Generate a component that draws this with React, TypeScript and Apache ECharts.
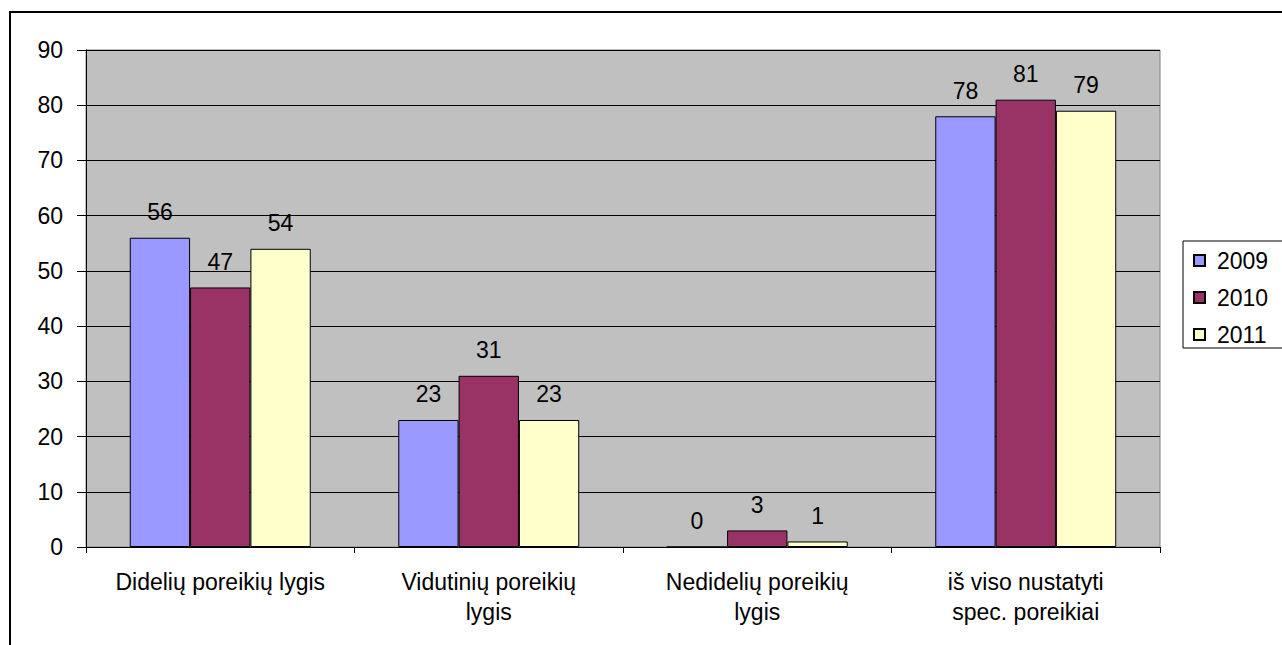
import React, { useEffect, useRef } from "react";
import * as echarts from "echarts";

const categories = [
  "Didelių poreikių lygis",
  "Vidutinių poreikių\nlygis",
  "Nedidelių poreikių\nlygis",
  "iš viso nustatyti\nspec. poreikiai",
];
const seriesNames = ["2009", "2010", "2011"];
const values2009 = [56, 23, 0, 78];
const values2010 = [47, 31, 3, 81];
const values2011 = [54, 23, 1, 79];
const colors = ["#9999FF", "#993366", "#FFFFCC"];
const yTicks = { min: 0, max: 90, interval: 10 };

const FONT = "'Liberation Sans', Arial, sans-serif";
const FS = 23;

export default function App() {
  const ref = useRef<HTMLDivElement>(null);
  useEffect(() => {
    if (!ref.current) return;
    const chart = echarts.init(ref.current, undefined, { renderer: "svg" });
    const data = [values2009, values2010, values2011];
    chart.setOption({
      animation: false,
      textStyle: { fontFamily: FONT, color: "#000" },
      graphic: [
        {
          type: "rect",
          shape: { x: 10, y: 12, width: 1400, height: 800 },
          style: { fill: "none", stroke: "#000", lineWidth: 2 },
          silent: true,
        },
      ],
      grid: {
        left: 86,
        top: 50,
        right: 122,
        bottom: 98,
        show: true,
        backgroundColor: "#C0C0C0",
        borderColor: "#808080",
        borderWidth: 1,
      },
      legend: {
        orient: "vertical",
        left: 1183,
        top: 241,
        padding: [8, 80, 2, 10],
        borderColor: "#000",
        borderWidth: 1,
        itemWidth: 11,
        itemHeight: 11,
        itemGap: 14,
        textStyle: { fontSize: FS, fontFamily: FONT, color: "#000", padding: [0, 0, 0, 7] },
        data: seriesNames.map((n) => ({ name: n, icon: "rect" })),
      },
      xAxis: {
        type: "category",
        data: categories,
        axisLine: { lineStyle: { color: "#000", width: 1 } },
        axisTick: { show: true, length: 6, lineStyle: { color: "#000" }, interval: 0 },
        axisLabel: {
          fontSize: FS,
          fontFamily: FONT,
          color: "#000",
          lineHeight: 30,
          margin: 20,
          interval: 0,
        },
      },
      yAxis: {
        type: "value",
        min: yTicks.min,
        max: yTicks.max,
        interval: yTicks.interval,
        axisLine: { show: true, lineStyle: { color: "#000", width: 1 } },
        axisTick: { show: true, length: 9, lineStyle: { color: "#000" } },
        axisLabel: { fontSize: FS, fontFamily: FONT, color: "#000", margin: 23 },
        splitLine: { show: true, lineStyle: { color: "#000", width: 1 } },
      },
      series: seriesNames.map((name, i) => ({
        name,
        type: "bar",
        data: data[i],
        barGap: "0%",
        barCategoryGap: "32.6%",
        itemStyle: { color: colors[i], borderColor: "#000", borderWidth: 1 },
        label: {
          show: true,
          position: "top",
          distance: 14,
          fontSize: FS,
          fontFamily: FONT,
          color: "#000",
        },
      })),
    });
    return () => chart.dispose();
  }, []);
  return (
    <div
      ref={ref}
      style={{ position: "fixed", left: 0, top: 0, width: 1282, height: 645, background: "#fff" }}
    />
  );
}
